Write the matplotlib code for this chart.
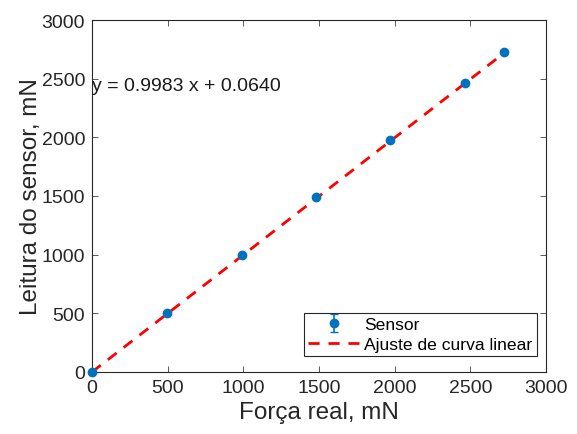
import matplotlib
matplotlib.use("Agg")
import matplotlib.pyplot as plt
import numpy as np

plt.rcParams['font.family'] = ['Liberation Sans', 'DejaVu Sans']

forca = [0, 495, 990, 1480, 1970, 2465, 2725]
leitura = [0, 502, 995, 1490, 1975, 2463, 2725]
slope = 0.9983
intercept = 0.0640
eq_text = "y = 0.9983 x + 0.0640"
xticks = [0, 500, 1000, 1500, 2000, 2500, 3000]
yticks = [0, 500, 1000, 1500, 2000, 2500, 3000]

fig = plt.figure(figsize=(5.77, 4.35), dpi=100)
ax = fig.add_axes([92/577, 1-373/435, (546-92)/577, (373-21)/435])

eb = ax.errorbar(forca, leitura, yerr=np.zeros(len(forca)), fmt='o', color='#0072BD',
                 markersize=6, capsize=3, elinewidth=1.2, label='Sensor', zorder=3)
eb.lines[0].set_clip_on(False)
xf = np.array([min(forca), max(forca)])
fit_line, = ax.plot(xf, slope*xf + intercept, '--', color='#FF0000', lw=2, dashes=(4, 3.2),
                    label='Ajuste de curva linear', zorder=2)

ax.text(0, 2440, eq_text, fontsize=14, va='center', ha='left', color='#1a1a1a')

ax.set_xlim(0, 3000)
ax.set_ylim(0, 3000)
ax.set_xticks(xticks)
ax.set_yticks(yticks)
ax.tick_params(direction='in', top=True, right=True, labelsize=14,
               colors='#404040', labelcolor='#262626', length=4, width=0.6, pad=5)
for s in ax.spines.values():
    s.set_color('#262626')
    s.set_linewidth(0.8)
ax.set_xlabel('Força real, mN', fontsize=17.5, color='#262626', labelpad=4)
ax.set_ylabel('Leitura do sensor, mN', fontsize=17.5, color='#262626', labelpad=0)

leg = ax.legend([eb, fit_line], ['Sensor', 'Ajuste de curva linear'],
                loc='lower right', bbox_to_anchor=(0.98, 0.045), fontsize=12.6,
                frameon=True, fancybox=False, edgecolor='#262626', framealpha=1,
                borderpad=0.25, handlelength=2.9, handletextpad=0.3, labelspacing=0.25,
                borderaxespad=0)
leg.get_frame().set_linewidth(0.8)

fig.savefig('out.png', dpi=100)
